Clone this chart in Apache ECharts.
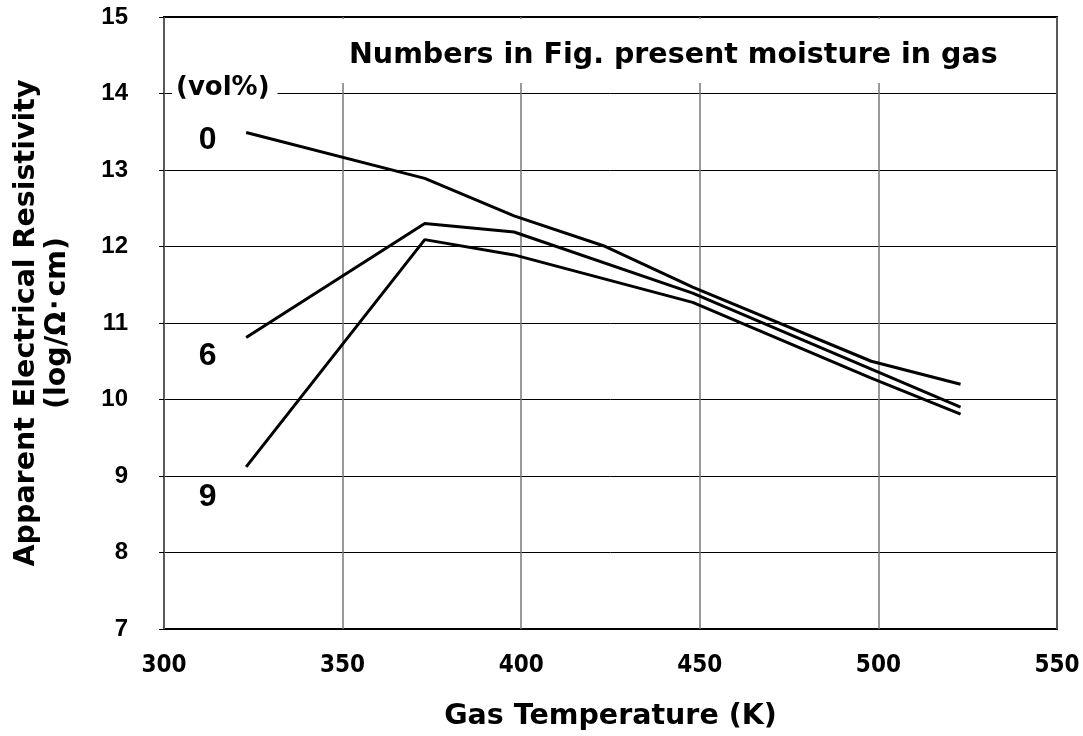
<!DOCTYPE html>
<html>
<head>
<meta charset="utf-8">
<script src="https://cdn.jsdelivr.net/npm/echarts@6/dist/echarts.min.js"></script>
<style>
  html, body { margin: 0; padding: 0; background: #fff; }
  #chart { width: 1083px; height: 736px; }
</style>
</head>
<body>
<div id="chart"></div>
<script>
// Gas temperature (K) at which resistivity was measured
const temps0 = [323, 373, 398, 423, 448, 498, 523];
const temps6 = [323, 373, 398, 448, 523];
const temps9 = [323, 373, 398, 448, 498, 523];

// Apparent electrical resistivity, log(Ω·cm), per moisture content
const moisture0 = [13.49, 12.89, 12.40, 12.01, 11.47, 10.50, 10.20];
const moisture6 = [10.81, 12.30, 12.19, 11.39, 9.90];
const moisture9 = [9.12, 12.09, 11.89, 11.27, 10.28, 9.81];

const seriesNames = ['0', '6', '9'];
const xTicks = [300, 350, 400, 450, 500, 550];
const yTicks = [7, 8, 9, 10, 11, 12, 13, 14, 15];

const WIDE = '"DejaVu Sans", "Noto Sans", sans-serif';
const ARIAL = '"Liberation Sans", Arial, sans-serif';
const NARROW = '"DejaVu Sans Condensed", "Liberation Sans", Arial, sans-serif';

function pairs(xs, ys) {
  return xs.map((x, i) => [x, ys[i]]);
}

// each curve carries its moisture value as a label below-left of its first point
function curve(name, xs, ys, dy) {
  return {
    name: name,
    type: 'line',
    data: pairs(xs, ys),
    symbol: 'circle',
    symbolSize: 1,
    showSymbol: true,
    itemStyle: { color: 'rgba(0,0,0,0)', borderWidth: 0 },
    lineStyle: { color: '#000', width: 3 },
    label: {
      show: true,
      position: 'left',
      distance: 29,
      formatter: (p) => (p.dataIndex === 0 ? name : ''),
      color: '#000',
      fontSize: 32,
      fontWeight: 'bold',
      fontFamily: ARIAL
    },
    labelLayout: { hideOverlap: false, dy: dy },
    emphasis: { disabled: true },
    animation: false,
    z: 5
  };
}

const chart = echarts.init(document.getElementById('chart'), null, { renderer: 'canvas' });

chart.setOption({
  animation: false,
  backgroundColor: '#fff',
  grid: {
    left: 164, right: 26, top: 17, bottom: 107,
    outerBoundsMode: 'none',
    containLabel: false,
    show: true, borderColor: '#000', borderWidth: 2, backgroundColor: 'transparent'
  },
  xAxis: {
    type: 'value',
    min: xTicks[0], max: xTicks[xTicks.length - 1], interval: 50,
    name: 'Gas Temperature (K)',
    nameLocation: 'middle',
    nameGap: 73,
    nameTextStyle: { fontSize: 28.5, fontWeight: 'bold', fontFamily: WIDE, color: '#000' },
    axisLine: { show: false },
    axisTick: { show: false },
    axisLabel: { margin: 25, fontSize: 24, fontWeight: 'bold', fontFamily: NARROW, color: '#000' },
    splitLine: { show: true, lineStyle: { color: '#777', width: 1.5 } }
  },
  yAxis: {
    type: 'value',
    min: yTicks[0], max: yTicks[yTicks.length - 1], interval: 1,
    name: 'Apparent Electrical Resistivity\n(log/Ω･cm)',
    nameLocation: 'middle',
    nameGap: 91,
    nameRotate: 90,
    nameTextStyle: { fontSize: 28.5, fontWeight: 'bold', fontFamily: WIDE, color: '#000', lineHeight: 31, align: 'center' },
    axisLine: { show: false },
    axisTick: { show: true, inside: false, length: 5, lineStyle: { color: '#000' } },
    axisLabel: { margin: 36, fontSize: 24, fontWeight: 'bold', fontFamily: ARIAL, color: '#000' },
    splitLine: { show: true, lineStyle: { color: '#000', width: 1 } }
  },
  graphic: [
    // white panel behind the note at the top of the plot
    {
      type: 'rect', z: 9,
      shape: { x: 335, y: 19, width: 716, height: 64 },
      style: { fill: '#fff' }
    },
    {
      type: 'text', left: 349, top: 41, z: 10,
      style: {
        text: 'Numbers in Fig. present moisture in gas',
        fill: '#000', font: 'bold 28.5px ' + WIDE
      }
    },
    {
      type: 'text', left: 172, top: 73, z: 10,
      style: {
        text: '(vol%)',
        fill: '#000', font: 'bold 26px ' + WIDE,
        backgroundColor: '#fff', padding: [2, 8, 2, 4]
      }
    }
  ],
  series: [
    curve(seriesNames[0], temps0, moisture0, 8),
    curve(seriesNames[1], temps6, moisture6, 19),
    curve(seriesNames[2], temps9, moisture9, 30)
  ]
});
</script>
</body>
</html>
